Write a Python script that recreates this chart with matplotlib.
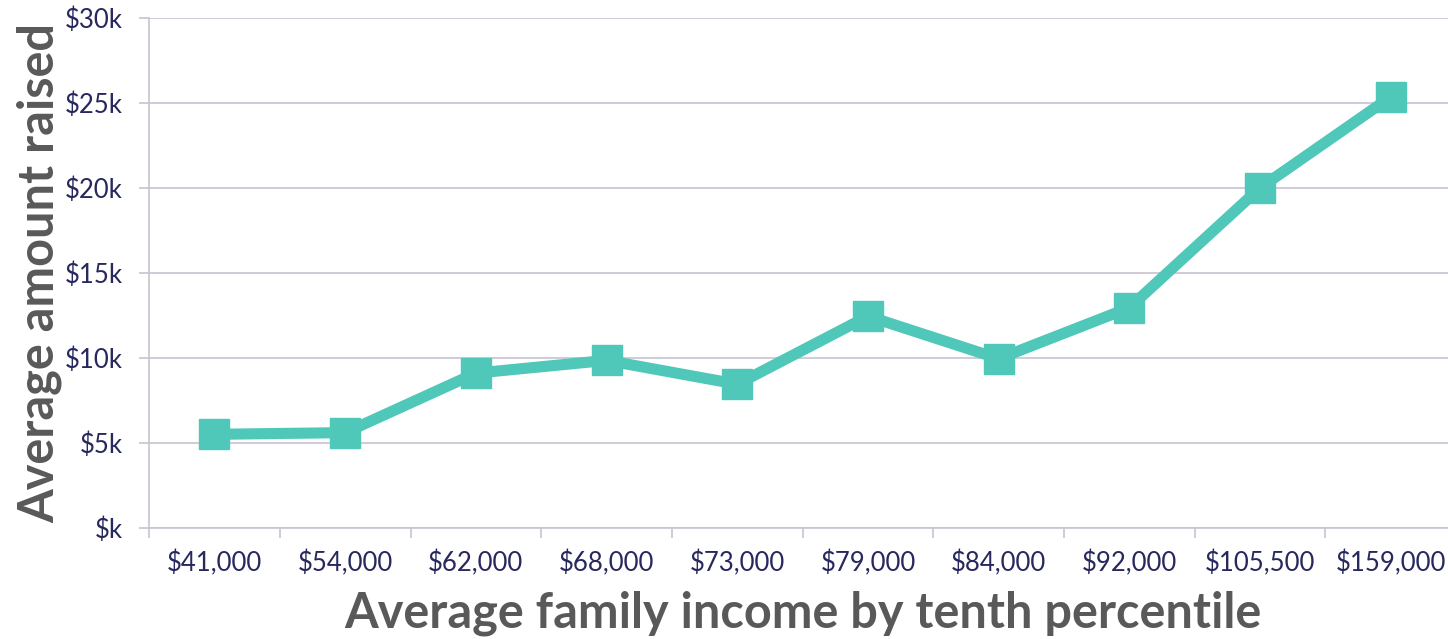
import matplotlib.pyplot as plt

incomes = ["$41,000", "$54,000", "$62,000", "$68,000", "$73,000",
           "$79,000", "$84,000", "$92,000", "$105,500", "$159,000"]
raised_k = [5.5, 5.6, 9.1, 9.85, 8.45, 12.45, 9.95, 12.95, 20.0, 25.35]
y_ticks = [0, 5, 10, 15, 20, 25, 30]
y_labels = ["$k", "$5k", "$10k", "$15k", "$20k", "$25k", "$30k"]

teal = "#4fc7b9"
navy = "#27285e"
grid = "#c6c4d0"
label_gray = "#595959"

plt.rcParams["font.family"] = ["Lato", "DejaVu Sans"]

fig = plt.figure(figsize=(14.48, 6.39), dpi=100)
# plot area runs slightly past the right edge of the canvas
ax = fig.add_axes([0.103, 0.174, 0.9026, 0.798])

x = list(range(len(incomes)))
ax.plot(x, raised_k, color=teal, linewidth=8, marker="s", markersize=21,
        solid_joinstyle="miter", zorder=3)

ax.set_xlim(-0.5, len(incomes) - 0.5)
ax.set_ylim(0, 30)

ax.set_yticks(y_ticks)
ax.set_yticklabels(y_labels)
ax.yaxis.grid(True, color=grid, linewidth=1.2)
ax.set_axisbelow(True)

# category labels sit between tick marks
ax.set_xticks(x)
ax.set_xticklabels(incomes)
ax.set_xticks([i - 0.5 for i in range(len(incomes) + 1)], minor=True)
ax.tick_params(axis="x", which="major", length=0, pad=16)
ax.tick_params(axis="x", which="minor", length=7, color=grid, width=1.2)
ax.tick_params(axis="y", length=7, color=grid, width=1.2, pad=12)
ax.tick_params(labelsize=18.5, labelcolor=navy)

for side in ["top", "right"]:
    ax.spines[side].set_visible(False)
for side in ["left", "bottom"]:
    ax.spines[side].set_color(grid)
    ax.spines[side].set_linewidth(1.2)

ax.set_xlabel("Average family income by tenth percentile", fontsize=35,
              fontweight="bold", color=label_gray, labelpad=10)
ax.set_ylabel("Average amount raised", fontsize=35,
              fontweight="bold", color=label_gray, labelpad=2)

fig.savefig("out.png", dpi=100)
